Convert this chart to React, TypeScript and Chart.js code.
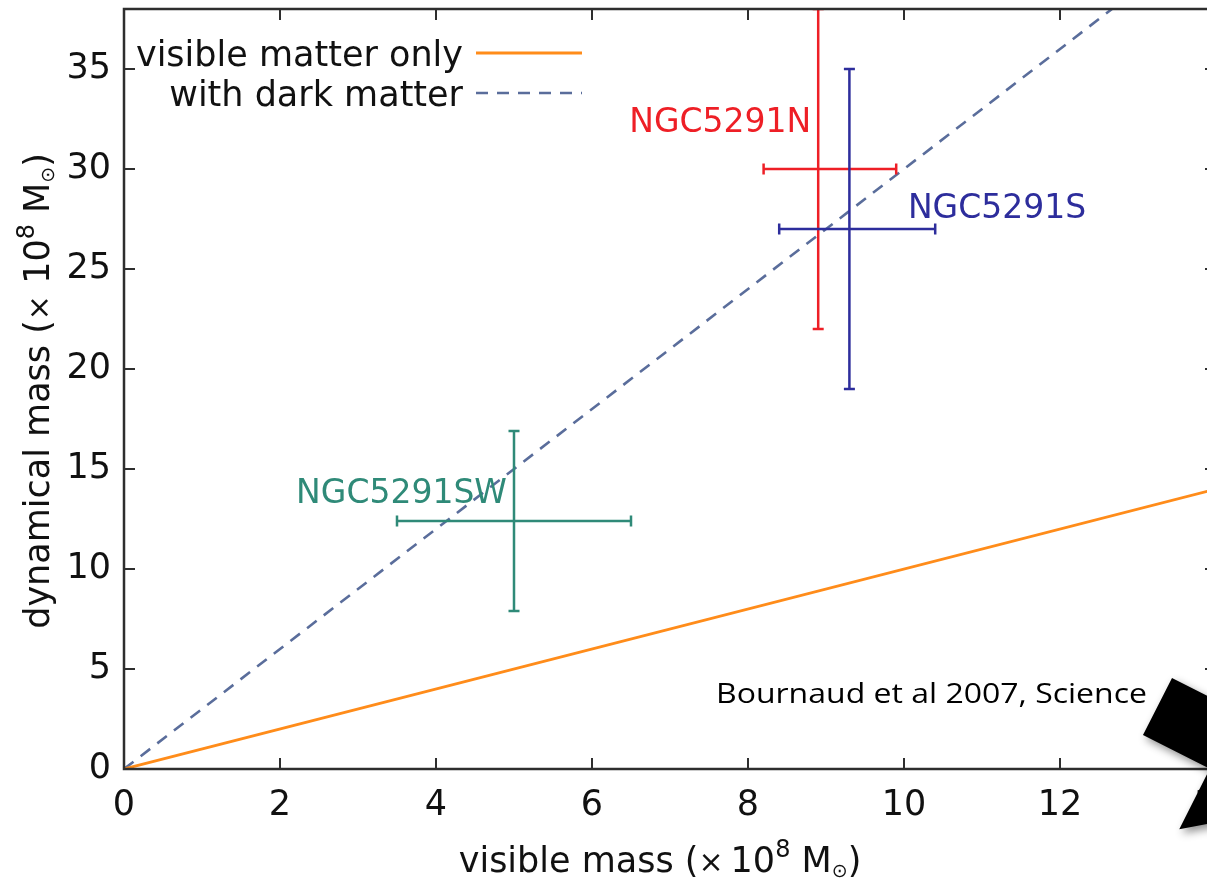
import React, { useEffect, useRef } from "react";
import { Chart, registerables } from "chart.js";

Chart.register(...registerables);

// ---- axes ----
const X_MIN = 0;
const X_MAX = 14;
const Y_MIN = 0;
const Y_MAX = 38;
const X_TICKS = [0, 2, 4, 6, 8, 10, 12, 14];
const Y_TICKS = [0, 5, 10, 15, 20, 25, 30, 35];

// ---- model lines ----
const LINE_X = [0, 14];
const VISIBLE_ONLY_Y = [0, 14];
const DARK_MATTER_Y = [0, 42];
const SERIES_LABELS = ["visible matter only", "with dark matter"];

// ---- galaxies (with error bars) ----
const GALAXIES = ["NGC5291N", "NGC5291S", "NGC5291SW"];
const GAL_X = [8.9, 9.3, 5.0];
const GAL_X_LOW = [8.2, 8.4, 3.5];
const GAL_X_HIGH = [9.9, 10.4, 6.5];
const GAL_Y = [30, 27, 12.4];
const GAL_Y_LOW = [22, 19, 7.9];
const GAL_Y_HIGH = [38, 35, 16.9];
const GAL_COLORS = ["#ee1f26", "#2d2d9c", "#2f8a78"];
const LABEL_X = [8.81, 10.05, 4.91];
const LABEL_Y = [31.85, 27.55, 13.3];
const LABEL_ALIGN: CanvasTextAlign[] = ["right", "left", "right"];

// ---- annotation arrow (data coordinates) ----
const ARROW_X = [13.436, 14.292, 14.683, 15.59, 13.529, 13.92, 13.064];
const ARROW_Y = [4.55, 2.86, 5.89, -1.49, -3.01, 0.01, 1.7];

const CITATION = "Bournaud et al 2007, Science";

const FONT = "'DejaVu Sans', 'Liberation Sans', sans-serif";
const TEXT = "#111111";
const FRAME = "#2e2e2e";

const CANVAS_W = 1260;
const CANVAS_H = 881;

type Part = { t: string; s: number; dy: number };

function drawRich(ctx: CanvasRenderingContext2D, parts: Part[], x: number, y: number) {
  let total = 0;
  const widths = parts.map((p) => {
    ctx.font = `${p.s}px ${FONT}`;
    const w = ctx.measureText(p.t).width;
    total += w;
    return w;
  });
  let cx = x - total / 2;
  ctx.textAlign = "left";
  ctx.textBaseline = "alphabetic";
  parts.forEach((p, i) => {
    ctx.font = `${p.s}px ${FONT}`;
    ctx.fillText(p.t, cx, y + p.dy);
    cx += widths[i];
  });
}

const decorPlugin = {
  id: "decor",
  afterDatasetsDraw(chart: any) {
    const { ctx, chartArea: a, scales } = chart;
    const x = scales.x;
    const y = scales.y;
    ctx.save();
    ctx.beginPath();
    ctx.rect(a.left, a.top, a.right - a.left, a.bottom - a.top);
    ctx.clip();
    const c = 5.5;
    GALAXIES.forEach((_, i) => {
      const cx = x.getPixelForValue(GAL_X[i]);
      const cy = y.getPixelForValue(GAL_Y[i]);
      const xl = x.getPixelForValue(GAL_X_LOW[i]);
      const xh = x.getPixelForValue(GAL_X_HIGH[i]);
      const yl = y.getPixelForValue(GAL_Y_LOW[i]);
      const yh = y.getPixelForValue(GAL_Y_HIGH[i]);
      ctx.strokeStyle = GAL_COLORS[i];
      ctx.lineWidth = 2.5;
      ctx.beginPath();
      ctx.moveTo(xl, cy);
      ctx.lineTo(xh, cy);
      ctx.moveTo(xl, cy - c);
      ctx.lineTo(xl, cy + c);
      ctx.moveTo(xh, cy - c);
      ctx.lineTo(xh, cy + c);
      ctx.moveTo(cx, yl);
      ctx.lineTo(cx, yh);
      ctx.moveTo(cx - c, yl);
      ctx.lineTo(cx + c, yl);
      ctx.moveTo(cx - c, yh);
      ctx.lineTo(cx + c, yh);
      ctx.stroke();
    });
    ctx.restore();

    // galaxy labels
    ctx.save();
    ctx.font = `33px ${FONT}`;
    ctx.textBaseline = "alphabetic";
    GALAXIES.forEach((g, i) => {
      ctx.fillStyle = GAL_COLORS[i];
      ctx.textAlign = LABEL_ALIGN[i];
      ctx.fillText(g, x.getPixelForValue(LABEL_X[i]), y.getPixelForValue(LABEL_Y[i]));
    });
    ctx.restore();
  },
  afterDraw(chart: any) {
    const { ctx, chartArea: a, scales } = chart;
    const x = scales.x;
    const y = scales.y;
    ctx.save();
    // frame
    ctx.strokeStyle = FRAME;
    ctx.lineWidth = 2.5;
    ctx.strokeRect(a.left, a.top, a.right - a.left, a.bottom - a.top);
    // inward ticks on all four sides
    const tl = 11;
    ctx.lineWidth = 2;
    ctx.beginPath();
    X_TICKS.forEach((v) => {
      const px = x.getPixelForValue(v);
      ctx.moveTo(px, a.bottom);
      ctx.lineTo(px, a.bottom - tl);
      ctx.moveTo(px, a.top);
      ctx.lineTo(px, a.top + tl);
    });
    Y_TICKS.forEach((v) => {
      const py = y.getPixelForValue(v);
      ctx.moveTo(a.left, py);
      ctx.lineTo(a.left + tl, py);
      ctx.moveTo(a.right, py);
      ctx.lineTo(a.right - tl, py);
    });
    ctx.stroke();

    // legend (gnuplot style: text right-aligned, sample to the right)
    const ds = chart.data.datasets;
    const textRight = a.left + 339;
    const sampleL = a.left + 352;
    const sampleR = a.left + 458;
    const rows = [a.top + 44, a.top + 84];
    ds.forEach((d: any, i: number) => {
      ctx.font = `35px ${FONT}`;
      ctx.fillStyle = TEXT;
      ctx.textAlign = "right";
      ctx.textBaseline = "alphabetic";
      ctx.fillText(d.label, textRight, rows[i] + 13);
      ctx.strokeStyle = d.borderColor;
      ctx.lineWidth = d.borderWidth;
      ctx.setLineDash(d.borderDash || []);
      ctx.beginPath();
      ctx.moveTo(sampleL, rows[i]);
      ctx.lineTo(sampleR, rows[i]);
      ctx.stroke();
      ctx.setLineDash([]);
    });

    // axis titles
    ctx.fillStyle = TEXT;
    const xTitle: Part[] = [
      { t: "visible mass (", s: 35, dy: 0 },
      { t: "\u00d7", s: 30, dy: 0 },
      { t: "\u200910", s: 35, dy: 0 },
      { t: "8", s: 24, dy: -15 },
      { t: " M", s: 35, dy: 0 },
      { t: "\u2299", s: 19, dy: 5 },
      { t: ")", s: 35, dy: 0 },
    ];
    drawRich(ctx, xTitle, (a.left + a.right) / 2 - 10, 872);
    const yTitle: Part[] = [
      { t: "dynamical mass (", s: 35, dy: 0 },
      { t: "\u00d7", s: 30, dy: 0 },
      { t: " 10", s: 35, dy: 0 },
      { t: "8", s: 24, dy: -15 },
      { t: " M", s: 35, dy: 0 },
      { t: "\u2299", s: 19, dy: 5 },
      { t: ")", s: 35, dy: 0 },
    ];
    ctx.save();
    ctx.translate(49, (a.top + a.bottom) / 2 + 2);
    ctx.rotate(-Math.PI / 2);
    drawRich(ctx, yTitle, 0, 0);
    ctx.restore();

    // citation (fitted to the reference width)
    ctx.save();
    ctx.font = `28px 'Open Sans', Lato, sans-serif`;
    ctx.fillStyle = "#000";
    ctx.textAlign = "left";
    ctx.textBaseline = "alphabetic";
    const cw = ctx.measureText(CITATION).width;
    const sx = 431 / cw;
    ctx.translate(716, 703);
    ctx.scale(sx, 1);
    ctx.fillText(CITATION, 0, 0);
    ctx.restore();

    // arrow annotation
    ctx.save();
    ctx.shadowColor = "rgba(0,0,0,0.45)";
    ctx.shadowBlur = 8;
    ctx.shadowOffsetX = 3;
    ctx.shadowOffsetY = 4;
    ctx.fillStyle = "#000";
    ctx.beginPath();
    ARROW_X.forEach((v, i) => {
      const px = x.getPixelForValue(v);
      const py = y.getPixelForValue(ARROW_Y[i]);
      if (i === 0) ctx.moveTo(px, py);
      else ctx.lineTo(px, py);
    });
    ctx.closePath();
    ctx.fill();
    ctx.restore();

    ctx.restore();
  },
};

export default function App() {
  const ref = useRef<HTMLCanvasElement | null>(null);

  useEffect(() => {
    document.body.style.margin = "0";
    const canvas = ref.current;
    if (!canvas) return;
    const chart = new Chart(canvas, {
      type: "scatter",
      data: {
        datasets: [
          {
            label: SERIES_LABELS[0],
            data: LINE_X.map((v, i) => ({ x: v, y: VISIBLE_ONLY_Y[i] })),
            showLine: true,
            borderColor: "#ff8c1a",
            borderWidth: 2.8,
            pointRadius: 0,
            fill: false,
          },
          {
            label: SERIES_LABELS[1],
            data: LINE_X.map((v, i) => ({ x: v, y: DARK_MATTER_Y[i] })),
            showLine: true,
            borderColor: "#5a6d9b",
            borderWidth: 2.6,
            borderDash: [12, 9],
            pointRadius: 0,
            fill: false,
          },
        ],
      },
      options: {
        animation: false,
        responsive: false,
        devicePixelRatio: 1,
        layout: { padding: { left: 0, top: 9, right: 44, bottom: 0 } },
        plugins: {
          legend: { display: false },
          tooltip: { enabled: false },
        },
        scales: {
          x: {
            type: "linear",
            min: X_MIN,
            max: X_MAX,
            afterBuildTicks: (s: any) => {
              s.ticks = X_TICKS.map((v) => ({ value: v }));
            },
            afterFit: (s: any) => {
              s.height = 112;
              s.paddingLeft = 0;
              s.paddingRight = 0;
            },
            grid: { display: false, drawTicks: false },
            border: { display: false },
            ticks: {
              padding: 16,
              color: TEXT,
              font: { family: FONT, size: 35 },
              maxRotation: 0,
              autoSkip: false,
            },
          },
          y: {
            type: "linear",
            min: Y_MIN,
            max: Y_MAX,
            afterBuildTicks: (s: any) => {
              s.ticks = Y_TICKS.map((v) => ({ value: v }));
            },
            afterFit: (s: any) => {
              s.width = 124;
              s.paddingTop = 0;
              s.paddingBottom = 0;
            },
            grid: { display: false, drawTicks: false },
            border: { display: false },
            ticks: {
              padding: 13,
              color: TEXT,
              font: { family: FONT, size: 35 },
              autoSkip: false,
            },
          },
        },
      },
      plugins: [decorPlugin],
    });
    return () => chart.destroy();
  }, []);

  return (
    <div
      style={{
        position: "absolute",
        left: 0,
        top: 0,
        width: 1207,
        height: 881,
        overflow: "hidden",
        background: "#fff",
      }}
    >
      <canvas
        ref={ref}
        width={CANVAS_W}
        height={CANVAS_H}
        style={{ width: CANVAS_W, height: CANVAS_H, display: "block" }}
      />
    </div>
  );
}
